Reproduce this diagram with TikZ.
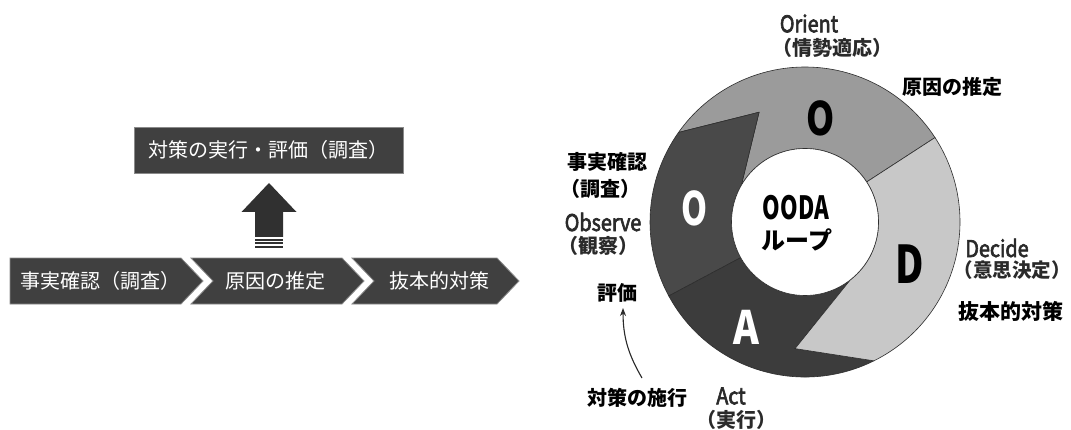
\documentclass[tikz,border=0pt]{standalone}
\usepackage{fontspec}
\usepackage{graphicx}
\setmainfont{Noto Sans CJK JP}
\newfontfamily\medfont[FakeBold=3]{Noto Sans CJK JP}
\usetikzlibrary{arrows.meta}
\definecolor{boxfill}{HTML}{404040}
\definecolor{boxline}{HTML}{8A8A8A}
\definecolor{arrowc}{HTML}{303030}
\definecolor{orientc}{HTML}{9B9B9B}
\definecolor{decidec}{HTML}{C8C8C8}
\definecolor{actc}{HTML}{3C3C3C}
\definecolor{observec}{HTML}{494949}
\definecolor{ringline}{HTML}{2E2E2E}
\definecolor{labelc}{HTML}{2A2A2A}
\newcommand\narw[2][0.86]{\scalebox{#1}[1]{#2}}
\tikzset{
  chevron/.style={fill=boxfill, draw=boxline, line width=0.8pt},
  boxtext/.style={text=white, font=\fontsize{20}{20}\selectfont, inner sep=0pt},
  seg/.style={draw=ringline, line width=0.6pt},
  lbl/.style={text=labelc, font=\bfseries\fontsize{20}{20}\selectfont, inner sep=0pt},
  latlbl/.style={text=labelc, font=\medfont\fontsize{23}{23}\selectfont, inner sep=0pt},
  keylbl/.style={text=black, font=\bfseries\fontsize{20}{20}\selectfont, inner sep=0pt},
  bigletter/.style={font=\bfseries\fontsize{46}{46}\selectfont, inner sep=0pt},
  curv/.style={draw=labelc, line width=1.1pt, -{Stealth[length=8pt,width=6pt]}},
}
\begin{document}
\begin{tikzpicture}[x=1pt,y=1pt]
\useasboundingbox (0,0) rectangle (1071,429);
\fill[white] (0,0) rectangle (1071,429);

% ---------- left: process chevrons ----------
\path[chevron] (10,171) -- (181,171) -- (203,148) -- (181,125) -- (10,125) -- cycle;
\path[chevron] (191,171) -- (342,171) -- (364,148) -- (342,125) -- (191,125) -- (213,148) -- cycle;
\path[chevron] (352,171) -- (497,171) -- (519,148) -- (497,125) -- (352,125) -- (374,148) -- cycle;
\node[boxtext] (c1) at (100,148) {事実確認（調査）};
\node[boxtext] (c2) at (275,148) {原因の推定};
\node[boxtext] (c3) at (439,148) {抜本的対策};

% top box
\node[chevron, boxtext, minimum width=269pt, minimum height=46pt] (top) at (268.5,279) {対策の実行・評価（調査）};

% up arrow
\fill[arrowc] (269,246) -- (296.5,217) -- (283,217) -- (283,192) -- (255,192) -- (255,217) -- (241.5,217) -- cycle;
\fill[arrowc] (255,188.5) rectangle (283,190.5);
\fill[arrowc] (255,185) rectangle (283,187);
\fill[arrowc] (255,181.5) rectangle (283,183.5);

% ---------- right: OODA loop ----------
\begin{scope}[shift={(805,207)}]
  \def\Ro{155}\def\Ri{73.5}
  \path[seg, fill=orientc] (33:\Ro) arc[start angle=33, end angle=144.7, radius=\Ro]
     -- (112.7:119) -- (150:\Ri) arc[start angle=150, end angle=33, radius=\Ri] -- cycle;
  \path[seg, fill=observec] (144.7:\Ro) arc[start angle=144.7, end angle=208.5, radius=\Ro]
     -- (209:\Ri) arc[start angle=209, end angle=150, radius=\Ri] -- (112.7:119) -- cycle;
  \path[seg, fill=actc] (208.5:\Ro) arc[start angle=208.5, end angle=296.4, radius=\Ro]
     -- (265.5:127) -- (308:\Ri) arc[start angle=308, end angle=209, radius=\Ri] -- cycle;
  \path[seg, fill=decidec] (-63.6:\Ro) arc[start angle=-63.6, end angle=33, radius=\Ro]
     -- (33:\Ri) arc[start angle=33, end angle=-52, radius=\Ri] -- (-94.5:127) -- cycle;
  \node[circle, fill=white, draw=ringline, line width=0.6pt, minimum size=147pt, inner sep=0pt] (hub) at (0,0) {};
\end{scope}

\node[font=\bfseries\fontsize{32}{32}\selectfont, inner sep=0pt] (ooda) at (796,221) {\narw[0.7]{OODA}};
\node[font=\bfseries\fontsize{24}{24}\selectfont, inner sep=0pt] (loop) at (797,189) {ループ};

\node[bigletter, text=black] (lo) at (821,311) {\narw[0.78]{O}};
\node[bigletter, text=white] (lob) at (695,221) {\narw[0.72]{O}};
\node[bigletter, text=black, font=\bfseries\fontsize{52}{52}\selectfont] (ld) at (910,165) {\narw[0.75]{D}};
\node[bigletter, text=white] (la) at (746,102) {\narw[0.85]{A}};

% labels
\node[latlbl] (orient) at (809,405.5) {\narw{Orient}};
\node[lbl] (orientj) at (832,381) {（情勢適応）};
\node[keylbl] (k1) at (952,342) {原因の推定};
\node[keylbl] (k2) at (607,267) {事実確認};
\node[keylbl] (k2b) at (600,240) {（調査）};
\node[latlbl] (observe) at (603,207) {\narw{Observe}};
\node[lbl] (observej) at (598,183) {（観察）};
\node[keylbl] (k3) at (617,136) {評価};
\node[keylbl] (k4) at (637,31) {対策の施行};
\node[latlbl] (act) at (731,33) {\narw{Act}};
\node[lbl] (actj) at (736,9) {（実行）};
\node[latlbl] (decide) at (997,181) {\narw{Decide}};
\node[lbl, font=\bfseries\fontsize{19.5}{19.5}\selectfont] (decidej) at (1012,159) {（意思決定）};
\node[keylbl, font=\bfseries\fontsize{21}{21}\selectfont] (k5) at (1011,117.5) {抜本的対策};

% curved arrow
\coordinate (cs) at (642,51);
\coordinate (ce) at (623,121);
\draw[curv] (cs) to[bend left=15] (ce);
\end{tikzpicture}
\end{document}
